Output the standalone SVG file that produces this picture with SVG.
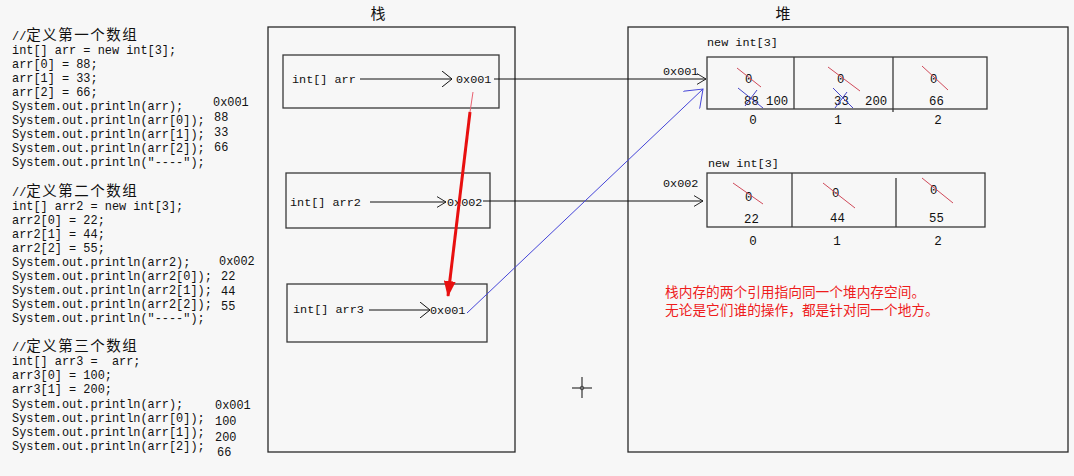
<svg xmlns="http://www.w3.org/2000/svg" width="1074" height="476" viewBox="0 0 1074 476">
<defs>
<style>
.code{font-family:"Liberation Mono","DejaVu Sans Mono","Noto Sans CJK SC",monospace;font-size:11.9px;fill:#111}
.cjk{font-family:"Noto Sans CJK SC","Noto Sans CJK SC",sans-serif;font-size:14.5px}
.lbl{font-family:"Liberation Mono","DejaVu Sans Mono",monospace;font-size:11.8px;fill:#111}
.idx{font-family:"Liberation Mono","DejaVu Sans Mono",monospace;font-size:12.5px;fill:#111;text-anchor:middle}
.cell{font-family:"Liberation Mono","DejaVu Sans Mono",monospace;font-size:12.3px;fill:#111}
.title{font-family:"Noto Sans CJK SC",sans-serif;font-size:15px;fill:#111;text-anchor:middle}
.box{fill:none;stroke:#3a3a3a;stroke-width:1.3}
.frame{fill:none;stroke:#2a2a2a;stroke-width:1.3}
.strike{stroke:#d04a5a;stroke-width:1}
.xout{stroke:#4545c8;stroke-width:1}
.note{font-family:"Noto Sans CJK SC",sans-serif;font-size:13.7px;fill:#ee1c1c}
.conn{fill:none;stroke:#111;stroke-width:1}
</style>
<marker id="openBig" viewBox="0 0 10 16" refX="10" refY="8" markerWidth="10" markerHeight="16" markerUnits="userSpaceOnUse" orient="auto">
<path d="M0,0 L10,8 L0,16" fill="none" stroke="#111" stroke-width="1"/>
</marker>
<marker id="openSmall" viewBox="0 0 10 12" refX="10" refY="6" markerWidth="9" markerHeight="12" markerUnits="userSpaceOnUse" orient="auto">
<path d="M0,0 L10,6 L0,12" fill="none" stroke="#111" stroke-width="1"/>
</marker>
<marker id="redHead" viewBox="0 0 16 12" refX="15" refY="6" markerWidth="16" markerHeight="12" markerUnits="userSpaceOnUse" orient="auto">
<path d="M0,0 L16,6 L0,12 Z" fill="#e81010"/>
</marker>
<marker id="blueHead" viewBox="0 0 17 24" refX="16" refY="12" markerWidth="17" markerHeight="24" markerUnits="userSpaceOnUse" orient="auto">
<path d="M0,0 L16,12 L0,24" fill="none" stroke="#4545d8" stroke-width="1"/>
</marker>
</defs>
<rect x="0" y="0" width="1074" height="476" fill="#f7f7f7"/>

<g id="code">
<text class="code" x="12" y="40"><tspan>//</tspan><tspan class="cjk" letter-spacing="1.5">定义第一个数组</tspan></text>
<text class="code" x="12" y="54">int[] arr = new int[3];</text>
<text class="code" x="12" y="68">arr[0] = 88;</text>
<text class="code" x="12" y="82">arr[1] = 33;</text>
<text class="code" x="12" y="96">arr[2] = 66;</text>
<text class="code" x="12" y="110">System.out.println(arr);</text>
<text class="code" x="12" y="124">System.out.println(arr[0]);</text>
<text class="code" x="12" y="138">System.out.println(arr[1]);</text>
<text class="code" x="12" y="152">System.out.println(arr[2]);</text>
<text class="code" x="12" y="166">System.out.println("----");</text>
<text class="code" x="213" y="106">0x001</text>
<text class="code" x="214" y="121">88</text>
<text class="code" x="214" y="136">33</text>
<text class="code" x="214" y="151">66</text>

<text class="code" x="12" y="196"><tspan>//</tspan><tspan class="cjk" letter-spacing="1.5">定义第二个数组</tspan></text>
<text class="code" x="12" y="210">int[] arr2 = new int[3];</text>
<text class="code" x="12" y="224">arr2[0] = 22;</text>
<text class="code" x="12" y="238">arr2[1] = 44;</text>
<text class="code" x="12" y="252">arr2[2] = 55;</text>
<text class="code" x="12" y="266">System.out.println(arr2);</text>
<text class="code" x="12" y="280">System.out.println(arr2[0]);</text>
<text class="code" x="12" y="294">System.out.println(arr2[1]);</text>
<text class="code" x="12" y="308">System.out.println(arr2[2]);</text>
<text class="code" x="12" y="322">System.out.println("----");</text>
<text class="code" x="219" y="265">0x002</text>
<text class="code" x="221" y="280">22</text>
<text class="code" x="221" y="295">44</text>
<text class="code" x="221" y="310">55</text>

<text class="code" x="12" y="351"><tspan>//</tspan><tspan class="cjk" letter-spacing="1.5">定义第三个数组</tspan></text>
<text class="code" x="12" y="365" xml:space="preserve">int[] arr3 =  arr;</text>
<text class="code" x="12" y="379">arr3[0] = 100;</text>
<text class="code" x="12" y="393">arr3[1] = 200;</text>
<text class="code" x="12" y="408">System.out.println(arr);</text>
<text class="code" x="12" y="422">System.out.println(arr[0]);</text>
<text class="code" x="12" y="436">System.out.println(arr[1]);</text>
<text class="code" x="12" y="450">System.out.println(arr[2]);</text>
<text class="code" x="215" y="409">0x001</text>
<text class="code" x="215" y="425">100</text>
<text class="code" x="215" y="441">200</text>
<text class="code" x="217" y="456">66</text>
</g>

<g id="stack">
<text class="title" x="378" y="19">栈</text>
<rect class="frame" x="268" y="27" width="247" height="425"/>
</g>
<g id="stack-arr">
<rect class="box" x="283" y="55" width="216" height="53"/>
<text class="lbl" x="292" y="83">int[] arr</text>
<text class="lbl" x="456" y="83">0x001</text>
</g>
<g id="stack-arr2">
<rect class="box" x="286" y="173" width="204" height="55"/>
<text class="lbl" x="290" y="206">int[] arr2</text>
<text class="lbl" x="447" y="206">0x002</text>
</g>
<g id="stack-arr3">
<rect class="box" x="287" y="284" width="200" height="58"/>
<text class="lbl" x="293" y="313">int[] arr3</text>
<text class="lbl" x="430" y="314">0x001</text>
</g>

<g id="heap">
<text class="title" x="783" y="19">堆</text>
<rect class="frame" x="628" y="27" width="440" height="425"/>
</g>
<g id="heap-array1">
<text class="lbl" x="707" y="46">new int[3]</text>
<text class="lbl" x="663" y="75">0x001</text>
<rect class="box" x="707" y="57" width="280" height="52"/>
<line class="box" x1="794" y1="57" x2="794" y2="109"/>
<line class="box" x1="893" y1="57" x2="893" y2="112"/>
<text class="cell" x="745" y="83">0</text>
<line class="strike" x1="737" y1="68" x2="761" y2="87"/>
<text class="cell" x="744" y="105">88</text>
<line class="xout" x1="738" y1="88" x2="763" y2="108"/>
<line class="xout" x1="745" y1="106" x2="757" y2="90"/>
<text class="cell" x="766" y="105">100</text>
<text class="cell" x="837" y="83">0</text>
<line class="strike" x1="828" y1="67" x2="860" y2="91"/>
<text class="cell" x="834" y="105">33</text>
<line class="xout" x1="833" y1="88" x2="853" y2="108"/>
<line class="xout" x1="835" y1="108" x2="847" y2="92"/>
<text class="cell" x="865" y="105">200</text>
<text class="cell" x="930" y="83">0</text>
<line class="strike" x1="922" y1="66" x2="948" y2="90"/>
<text class="cell" x="929" y="105">66</text>
<text class="idx" x="753" y="124">0</text>
<text class="idx" x="838" y="124">1</text>
<text class="idx" x="938" y="124">2</text>
</g>
<g id="heap-array2">
<text class="lbl" x="708" y="167">new int[3]</text>
<text class="lbl" x="663" y="187">0x002</text>
<rect class="box" x="707" y="173" width="278" height="54"/>
<line class="box" x1="792" y1="173" x2="792" y2="227"/>
<line class="box" x1="896" y1="178" x2="896" y2="227"/>
<text class="cell" x="745" y="201">0</text>
<line class="strike" x1="733" y1="183" x2="763" y2="204"/>
<text class="cell" x="744" y="223">22</text>
<text class="cell" x="832" y="197">0</text>
<line class="strike" x1="823" y1="183" x2="855" y2="208"/>
<text class="cell" x="830" y="222">44</text>
<text class="cell" x="930" y="194">0</text>
<line class="strike" x1="922" y1="178" x2="953" y2="203"/>
<text class="cell" x="929" y="222">55</text>
<text class="idx" x="753" y="245">0</text>
<text class="idx" x="837" y="245">1</text>
<text class="idx" x="938" y="245">2</text>
</g>

<g id="note">
<text class="note" x="665" y="297">栈内存的两个引用指向同一个堆内存空间。</text>
<text class="note" x="665" y="315">无论是它们谁的操作，都是针对同一个地方。</text>
</g>

<g id="cursor">
<line x1="572" y1="388" x2="592" y2="388" stroke="#333" stroke-width="1.2"/>
<line x1="582" y1="377" x2="582" y2="398" stroke="#333" stroke-width="1.2"/>
<circle cx="582" cy="388" r="1.8" fill="#777" stroke="#333" stroke-width="0.8"/>
</g>

<g id="connectors">
<line class="conn" x1="360" y1="79" x2="452" y2="79" marker-end="url(#openBig)"/>
<line class="conn" x1="370" y1="202" x2="446" y2="202" marker-end="url(#openSmall)"/>
<line class="conn" x1="369" y1="310" x2="430" y2="310" marker-end="url(#openBig)"/>
<line class="conn" x1="494" y1="79" x2="706" y2="79" marker-end="url(#openSmall)"/>
<line class="conn" x1="483" y1="201" x2="703" y2="201" marker-end="url(#openSmall)"/>
<line x1="467" y1="313" x2="703" y2="89" stroke="#4545d8" stroke-width="1" marker-end="url(#blueHead)"/>
<line x1="473" y1="92" x2="470" y2="112" stroke="#e86070" stroke-width="1"/>
<line x1="470" y1="112" x2="448" y2="296" stroke="#e81010" stroke-width="3" marker-end="url(#redHead)"/>
</g>
</svg>
